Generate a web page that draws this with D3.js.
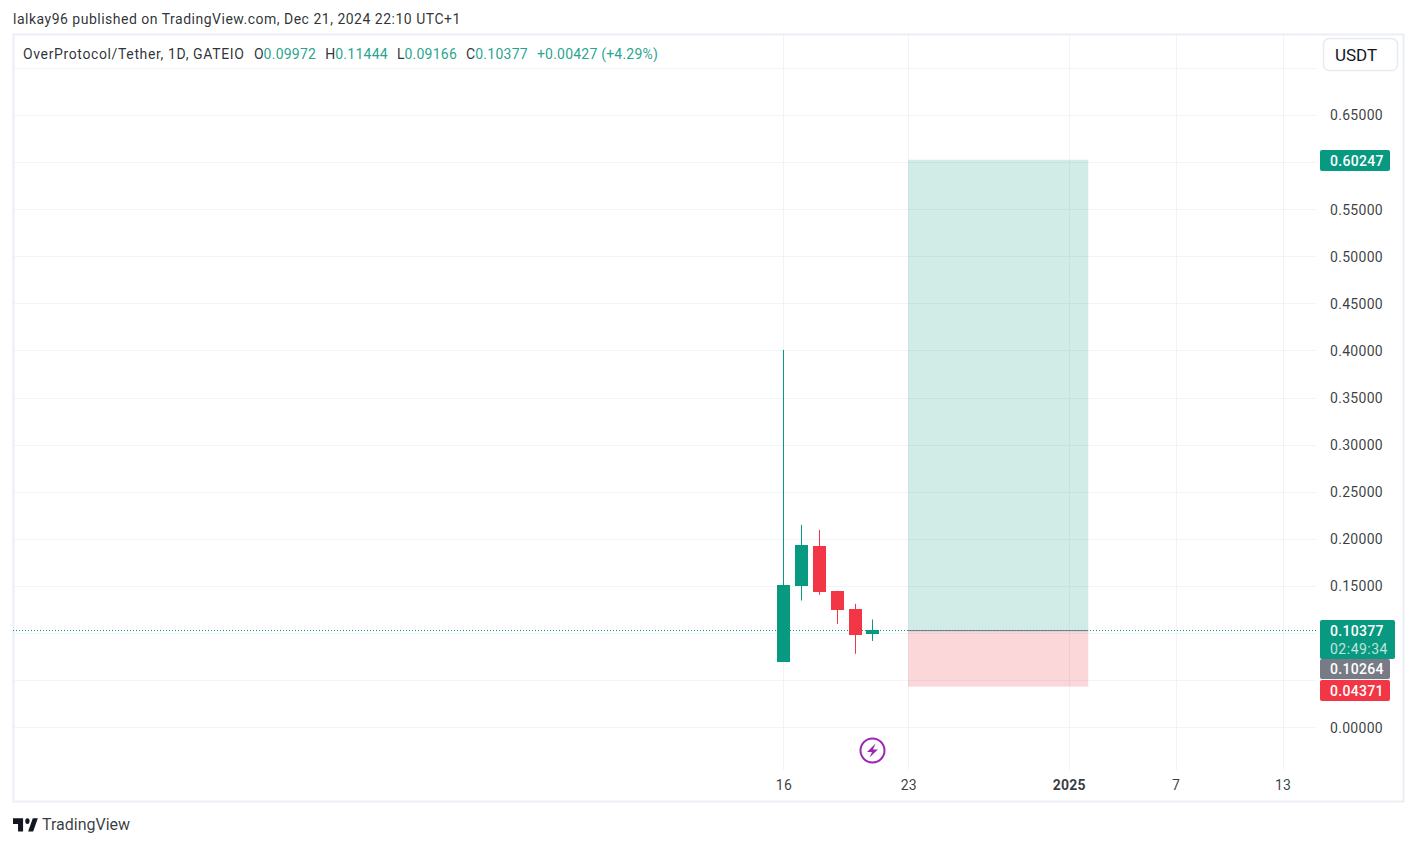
<!DOCTYPE html>
<html><head><meta charset="utf-8">
<script src="https://cdn.jsdelivr.net/npm/d3@7"></script>
<style>html,body{margin:0;padding:0;background:#fff}svg{display:block}text{font-family:Roboto,sans-serif}</style>
</head><body><div id="c"></div>
<script>
const dates=["2024-12-16","2024-12-17","2024-12-18","2024-12-19","2024-12-20","2024-12-21"];
const opens=[0.0695,0.150,0.1926,0.1449,0.1258,0.09972];
const highs=[0.4006,0.2149,0.2096,0.1449,0.1311,0.11444];
const lows=[0.0695,0.1346,0.1406,0.1098,0.078,0.09166];
const closes=[0.1512,0.1937,0.1441,0.1247,0.0982,0.10377];
const priceTicks=[0,0.05,0.10,0.15,0.20,0.25,0.30,0.35,0.40,0.45,0.50,0.55,0.60,0.65,0.70];
const hiddenPriceLabels=[0.05,0.10,0.60,0.70];
const timeTicks=["2024-12-16","2024-12-23","2025-01-01","2025-01-07","2025-01-13"];
const timeLabels=["16","23","2025","7","13"];
const positionStart="2024-12-23", positionEnd="2025-01-02T02:30:00Z";
const entry=0.10264, target=0.60247, stop=0.04371, last=0.10377;
const legendOHLC=[["O","0.09972"],["H","0.11444"],["L","0.09166"],["C","0.10377"]];
const legendChange="+0.00427 (+4.29%)";

const G="#089981",R="#f23645",GRID="#f0f3fa",TXT="#131722";
const W=1417,H=846;
const svg=d3.select("#c").append("svg").attr("width",W).attr("height",H);
const d=s=>new Date(s.length>10?s:s+"T00:00:00Z");
const x=d3.scaleUtc().domain([d("2024-12-16"),d("2025-01-13")]).range([783.3,1282.5]);
const y=d3.scaleLinear().domain([0,0.65]).range([727.3,115]);
const L=13.5,Rt=1403.5,T=34.5,B=801.5,AX=1316;

// grid
svg.append("g").selectAll("line").data(priceTicks).join("line")
 .attr("x1",L).attr("x2",AX).attr("y1",v=>Math.round(y(v))+.5).attr("y2",v=>Math.round(y(v))+.5).attr("stroke",GRID);
svg.append("g").selectAll("line").data(timeTicks).join("line")
 .attr("x1",v=>Math.round(x(d(v)))+.5).attr("x2",v=>Math.round(x(d(v)))+.5).attr("y1",T).attr("y2",770).attr("stroke",GRID);

// frame
svg.append("rect").attr("x",L).attr("y",T).attr("width",Rt-L).attr("height",B-T).attr("fill","none").attr("stroke","#eceef5").attr("stroke-width",2);

// position tool
const px0=x(d(positionStart)),px1=x(d(positionEnd));
svg.append("rect").attr("x",px0).attr("width",px1-px0).attr("y",y(target)).attr("height",y(entry)-y(target)).attr("fill",G).attr("fill-opacity",.19);
svg.append("rect").attr("x",px0).attr("width",px1-px0).attr("y",y(entry)).attr("height",y(stop)-y(entry)+.5).attr("fill",R).attr("fill-opacity",.2);
svg.append("line").attr("x1",px0).attr("x2",px1).attr("y1",y(entry)).attr("y2",y(entry)).attr("stroke","#787b86");

// last price line
svg.append("line").attr("x1",13).attr("x2",AX).attr("y1",Math.round(y(last))+.5).attr("y2",Math.round(y(last))+.5)
 .attr("stroke",G).attr("stroke-dasharray","1 2");

// candles
const rows=dates.map((k,i)=>({t:d(k),o:opens[i],h:highs[i],l:lows[i],c:closes[i]}));
const cg=svg.append("g").selectAll("g").data(rows).join("g");
cg.append("line").attr("x1",r=>Math.round(x(r.t))+.5).attr("x2",r=>Math.round(x(r.t))+.5)
 .attr("y1",r=>y(r.h)).attr("y2",r=>y(r.l)).attr("stroke",r=>r.c>=r.o?G:R);
cg.append("rect").attr("x",r=>Math.round(x(r.t))-6).attr("width",13)
 .attr("y",r=>Math.round(y(Math.max(r.o,r.c)))).attr("height",r=>Math.max(2,Math.round(Math.abs(y(r.o)-y(r.c)))))
 .attr("fill",r=>r.c>=r.o?G:R);

// price axis
const ax=d3.axisRight(y).tickValues(priceTicks.filter(v=>!hiddenPriceLabels.includes(v))).tickFormat(d3.format(".5f")).tickSize(0).tickPadding(0);
const axg=svg.append("g").attr("transform","translate(1330,.5)").call(ax);
axg.select(".domain").remove();
axg.selectAll("text").attr("font-size",14).attr("font-family","Roboto,sans-serif").attr("fill",TXT).attr("fill-opacity",.85).attr("letter-spacing",.3);

// time axis
svg.append("g").selectAll("text").data(timeTicks).join("text")
 .attr("x",v=>x(d(v))+.6).attr("y",790).attr("text-anchor","middle").attr("font-size",14).attr("fill",TXT).attr("fill-opacity",.85).attr("letter-spacing",.2)
 .attr("font-weight",(v,i)=>timeLabels[i]==="2025"?700:400).text((v,i)=>timeLabels[i]);

// price labels
function tag(v,x0,w,y0,h,col,sub){
 svg.append("rect").attr("x",x0).attr("y",y0).attr("width",w).attr("height",h).attr("rx",2).attr("fill",col);
 svg.append("text").attr("x",1330).attr("y",sub?y0+16:y0+h/2+5).attr("font-size",14).attr("font-weight",500).attr("letter-spacing",.3).attr("fill","#fff").text(d3.format(".5f")(v));
 if(sub)svg.append("text").attr("x",1330).attr("y",y0+34).attr("font-size",14).attr("letter-spacing",.5).attr("fill","#fff").attr("fill-opacity",.75).text(sub);
}
tag(target,1320,70,150,21,G);
tag(entry,1320,70,659,20,"#787b86");
tag(stop,1320,70,680,21,R);
tag(last,1320,75,620,39,G,"02:49:34");

// header
svg.append("text").attr("x",13).attr("y",24).attr("font-size",14).attr("letter-spacing",.5).attr("fill",TXT).attr("fill-opacity",.9).text("lalkay96 published on TradingView.com, Dec 21, 2024 22:10 UTC+1");
const leg=svg.append("text").attr("x",23).attr("y",59).attr("font-size",14).attr("fill",TXT).attr("fill-opacity",.9);
leg.append("tspan").attr("letter-spacing",.63).text("OverProtocol/Tether, 1D, GATEIO");
legendOHLC.forEach(([a,b],i)=>{
 leg.append("tspan").attr("dx",i?9:9.5).text(a);
 leg.append("tspan").attr("fill",G).attr("letter-spacing",.25).text(b);
});
leg.append("tspan").attr("dx",9).attr("fill",G).attr("letter-spacing",.22).text(legendChange);

// currency button
svg.append("rect").attr("x",1323.5).attr("y",38.5).attr("width",74).attr("height",32).attr("rx",6).attr("fill","#fff").attr("stroke","#e8eaf2").attr("stroke-width",1.5);
svg.append("text").attr("x",1335).attr("y",61).attr("font-size",17).attr("fill",TXT).text("USDT");

// lightning marker
svg.append("circle").attr("cx",872.5).attr("cy",750.5).attr("r",12).attr("fill","#fff").attr("stroke","#9c27b0").attr("stroke-width",2);
svg.append("path").attr("d","M875.5 743.5 L867 752 L872 752 L869.5 757.5 L878 749.5 L873 749.5 Z").attr("fill","#9c27b0");

// logo
const lg=svg.append("g").attr("transform","translate(13,812.5) scale(.72,.95)").attr("fill","#131722");
lg.append("path").attr("d","M14 6H0v6h7v8h7V6Z");
lg.append("path").attr("d","M28 20h-7l6.5-14h7L28 20Z");
lg.append("circle").attr("cx",20).attr("cy",9).attr("r",3);
svg.append("text").attr("x",42).attr("y",830).attr("font-size",16).attr("fill",TXT).attr("fill-opacity",.85).text("TradingView");
</script></body></html>
